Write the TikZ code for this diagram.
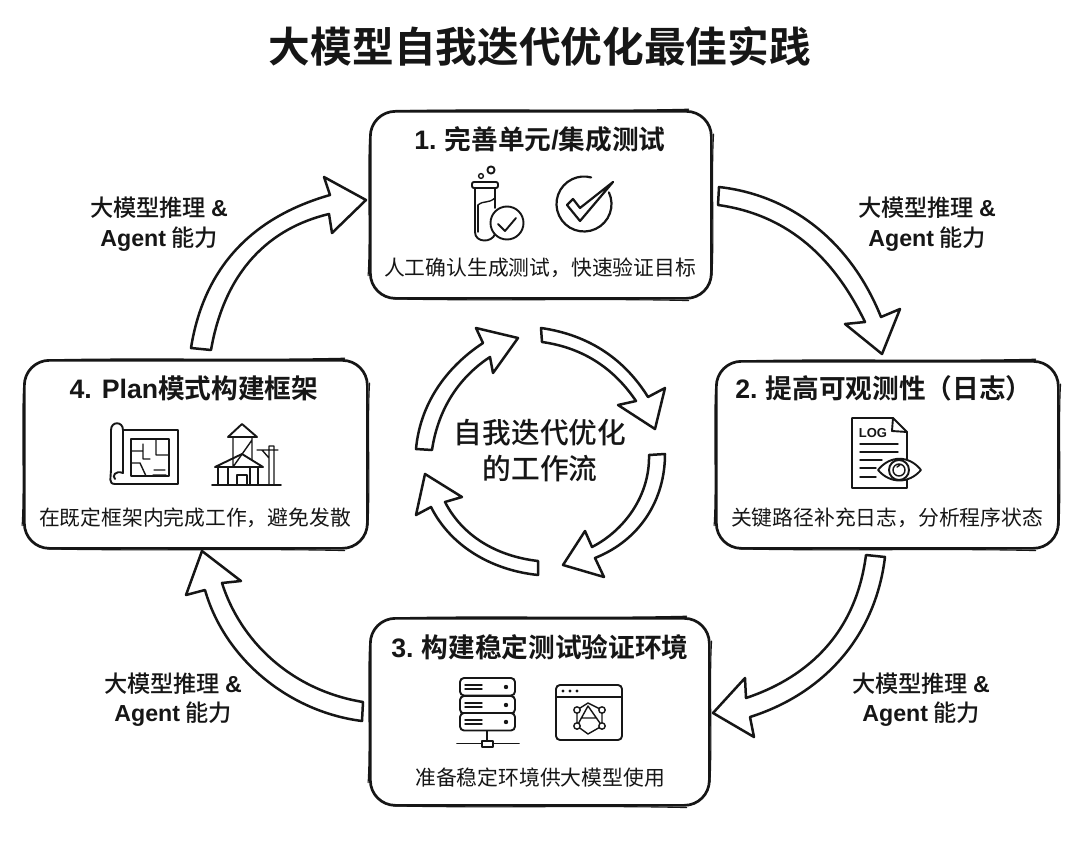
\documentclass[tikz,border=0pt]{standalone}
\usepackage{fontspec}
\setmainfont{Noto Sans CJK SC}[BoldFont={Noto Sans CJK SC Medium}]
\newfontfamily\titlefont{Noto Sans CJK SC Bold}
\newfontfamily\lat{Liberation Sans}[BoldFont={Liberation Sans Bold}]
\usetikzlibrary{calc}
\newcommand\fsz[1]{\fontsize{#1}{#1}\selectfont}
\definecolor{ink}{HTML}{161616}
\newcommand\sketchover[1]{%
  \draw[draw=ink,line width=1.1pt,line cap=round]
    ($(#1.north west)+(24,0.9)$) .. controls ($(#1.north)+(-50,-1.4)$) and ($(#1.north)+(50,1.6)$) .. ($(#1.north east)+(-24,-0.8)$)
    ($(#1.north east)+(0.9,24)$) .. controls ($(#1.east)+(-1.5,-35)$) and ($(#1.east)+(1.5,35)$) .. ($(#1.south east)+(-0.8,-24)$)
    ($(#1.south east)+(-24,0.9)$) .. controls ($(#1.south)+(50,-1.5)$) and ($(#1.south)+(-50,1.5)$) .. ($(#1.south west)+(24,-0.8)$)
    ($(#1.south west)+(-0.9,-24)$) .. controls ($(#1.west)+(1.5,35)$) and ($(#1.west)+(-1.5,-35)$) .. ($(#1.north west)+(0.8,24)$);}
\tikzset{
  x=1pt,y=-1pt,
  card/.style={draw=ink,line width=2.7pt,rounded corners=25pt,fill=white,inner sep=0pt,anchor=north west},
  blockarrow/.style={draw=ink,line width=2.5pt,fill=white,line join=round},
  icon/.style={draw=ink,line width=1.9pt,line join=round,line cap=round},
  iconthin/.style={draw=ink,line width=1.4pt,line join=round,line cap=round},
  titletext/.style={text=ink,font=\titlefont\fsz{41.7},inner sep=0pt},
  headtext/.style={text=ink,font=\titlefont\fsz{26.7},inner sep=0pt},
  subtext/.style={text=ink,font=\fsz{20.8},inner sep=0pt},
  sidetext/.style={text=ink,font=\bfseries\fsz{23.2},inner sep=0pt,align=center},
  centertext/.style={text=ink,font=\bfseries\fsz{28.7},inner sep=0pt},
}
\begin{document}
\begin{tikzpicture}
\useasboundingbox[fill=white] (0,0) rectangle (1080,843);

\node[titletext] (title) at (540,46) {大模型自我迭代优化最佳实践};

% cards
\node[card,minimum width=341pt,minimum height=187pt] (c1) at (369,110) {};
\node[card,minimum width=342pt,minimum height=187pt] (c2) at (715,360) {};
\node[card,minimum width=339pt,minimum height=187pt] (c3) at (369,617) {};
\node[card,minimum width=343pt,minimum height=188pt] (c4) at (23,359) {};
\sketchover{c1}\sketchover{c2}\sketchover{c3}\sketchover{c4}

\node[headtext] (h1) at (540,139) {{\lat\bfseries 1.} 完善单元{\lat\bfseries /}集成测试};
\node[headtext] (h2) at (884,388) {{\lat\bfseries 2.} 提高可观测性（日志）};
\node[headtext] (h3) at (540,647) {{\lat\bfseries 3.} 构建稳定测试验证环境};
\node[headtext] (h4) at (194,388) {{\lat\bfseries 4. Plan}模式构建框架};

\node[subtext] (s1) at (540,268) {人工确认生成测试，快速验证目标};
\node[subtext] (s2) at (887,518) {关键路径补充日志，分析程序状态};
\node[subtext] (s3) at (540,778) {准备稳定环境供大模型使用};
\node[subtext] (s4) at (195,518) {在既定框架内完成工作，避免发散};

% side labels
\node[sidetext] (l1) at (927,224) {大模型推理 {\lat\bfseries\&}\\[6.5pt]{\lat\bfseries Agent} 能力};
\node[sidetext] (l2) at (921,700) {大模型推理 {\lat\bfseries\&}\\[6pt]{\lat\bfseries Agent} 能力};
\node[sidetext] (l3) at (173,700) {大模型推理 {\lat\bfseries\&}\\[6pt]{\lat\bfseries Agent} 能力};
\node[sidetext] (l4) at (159,224) {大模型推理 {\lat\bfseries\&}\\[6.5pt]{\lat\bfseries Agent} 能力};

% outer block arrows
\draw[blockarrow] (719,187) .. controls (790,195) and (850,240) .. (881,317) -- (900,309) -- (882,354) -- (845,324) -- (865,322)
   .. controls (835,260) and (790,215) .. (718,205) -- cycle;
\draw[blockarrow] (885,557) .. controls (875,640) and (820,695) .. (750,717) -- (754,737) -- (713,713) -- (745,678) -- (746,698)
   .. controls (800,680) and (855,640) .. (866,555) -- cycle;
\draw[blockarrow] (362,721) .. controls (290,712) and (225,660) .. (205,590) -- (186,595) -- (202,551) -- (241,581) -- (222,583)
   .. controls (240,640) and (290,690) .. (363,702) -- cycle;
\draw[blockarrow] (191,348) .. controls (205,260) and (260,215) .. (330,195) -- (324,177) -- (366,200) -- (332,233) -- (329,214)
   .. controls (270,228) and (225,270) .. (211,350) -- cycle;

% inner block arrows
\draw[blockarrow] (541,328) .. controls (590,335) and (625,360) .. (648,397) -- (665,388) -- (655,429) -- (618,405) -- (636,401)
   .. controls (615,370) and (585,348) .. (542,342) -- cycle;
\draw[blockarrow] (665,454) .. controls (665,500) and (640,540) .. (595,558) -- (604,577) -- (563,565) -- (585,531) -- (592,547)
   .. controls (625,530) and (650,495) .. (649,455) -- cycle;
\draw[blockarrow] (538,575) .. controls (490,570) and (450,545) .. (431,507) -- (416,515) -- (425,474) -- (462,497) -- (445,502)
   .. controls (462,535) and (495,556) .. (538,561) -- cycle;
\draw[blockarrow] (416,449) .. controls (420,405) and (445,368) .. (483,343) -- (476,328) -- (518,338) -- (493,373) -- (490,357)
   .. controls (458,378) and (438,410) .. (432,450) -- cycle;

\node[centertext] (m1) at (540,433) {自我迭代优化};
\node[centertext] (m2) at (540,469) {的工作流};

% --- icon: test tube
\draw[icon] (475,188) -- (475,232) .. controls (475,243) and (492,243) .. (495,234);
\draw[icon] (495,188) -- (495,208);
\draw[icon,rounded corners=2pt] (472,182) rectangle (498,188);
\draw[iconthin] (478,205) .. controls (484,200) and (488,204) .. (495,198);
\draw[iconthin] (478,205) -- (478,232);
\draw[icon] (491,170) circle (3.6);
\draw[iconthin] (481,176) circle (2.4);
\draw[icon,fill=white] (507,223) circle (16.5);
\draw[icon] (498,224) -- (505,231) -- (516,218);
% --- icon: big check
\draw[draw=ink,line width=2.2pt,line cap=round] (584,204) ++(-25:27.5) arc (-25:285:27.5);
\draw[draw=ink,line width=2.2pt,line join=round,fill=white] (567,205) -- (580,221) -- (613,182) -- (580,208) -- (573,199) -- cycle;

% --- icon: log document
\draw[icon] (893,418) -- (852,418) -- (852,488) -- (907,488) -- (907,432) -- cycle;
\draw[icon] (893,418) -- (892,431) -- (907,432);
\node[text=ink,font=\lat\bfseries\fsz{13},inner sep=0pt] (logt) at (873,433) {LOG};
\draw[iconthin] (860,444) -- (898,444) (860,452) -- (898,452) (860,460) -- (882,460) (860,468) -- (876,468) (860,477) -- (876,477);
\draw[icon,fill=white] (878,470) .. controls (890,455) and (909,455) .. (921,470) .. controls (909,484) and (890,484) .. (878,470) -- cycle;
\draw[icon] (899,470) circle (10);
\draw[iconthin] (899,470) circle (6);
\draw[iconthin] (897,467) -- (900,465);

% --- icon: server
\foreach \yt in {678,696,713}{
  \draw[icon,rounded corners=4pt,fill=white] (460,\yt) rectangle (515,\yt+17.5);
  \draw[iconthin] (465,\yt+7) -- (482,\yt+7) (465,\yt+11) -- (482,\yt+11);
  \fill[ink] (506,\yt+9) circle (2.2);
}
\draw[icon] (487,731) -- (487,741) (457,743.5) -- (482,743.5) (493,743.5) -- (519,743.5);
\draw[iconthin] (482,741) rectangle (493,747);

% --- icon: window with network
\draw[icon,rounded corners=4pt] (556,685) rectangle (622,740);
\draw[iconthin] (556,697) -- (622,697);
\fill[ink] (563,691) circle (1.7) (570,691) circle (1.7) (577,691) circle (1.7);
\draw[iconthin] (588,703) -- (602,710) -- (602,726) -- (588,734) -- (577,726) -- (577,710) -- cycle;
\draw[iconthin] (577,726) -- (588,706) -- (602,726) (581,718) -- (596,718);
\foreach \p in {(577,710),(602,710),(577,726),(602,726)}{\draw[iconthin,fill=white] \p circle (3.2);}

% --- icon: blueprint
\draw[icon] (123,430) -- (178,430) -- (178,484) -- (115,484) .. controls (108,484) and (111,477) .. (111,470) -- (111,430)
   .. controls (111,421) and (123,421) .. (123,430) -- (123,473) .. controls (115,470) and (112,476) .. (115,479);
\draw[iconthin] (131,439) rectangle (169,476);
\draw[iconthin] (131,451) -- (143,451) -- (143,459) -- (150,459) (143,451) -- (143,444) (156,439) -- (156,455) -- (169,455)
   (131,463) -- (140,463) -- (146,476) (154,470) -- (165,470) (153,475) -- (166,475);

% --- icon: building
\draw[icon] (212,485) -- (281,485);
\draw[icon] (228,437) -- (242,424) -- (257,437) -- cycle;
\draw[iconthin] (233,437) -- (233,467) (252,437) -- (252,460) (233,467) -- (252,440);
\draw[icon] (215,467) -- (242,454) -- (263,467) -- cycle;
\draw[iconthin] (218,467) -- (218,485) (228,467) -- (228,485) (258,467) -- (258,485) (250,467) -- (250,485)
   (237,485) -- (237,475) -- (247,475) -- (247,485);
\draw[iconthin] (269,485) -- (269,446) -- (274,446) -- (274,485) (257,450) -- (278,450) (262,450) -- (269,458);
\end{tikzpicture}
\end{document}
